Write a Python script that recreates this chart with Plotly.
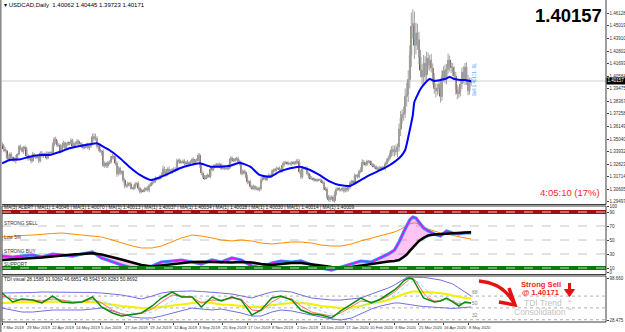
import plotly.graph_objects as go

# ---------------- DATA ----------------
tick_idx = [0, 16, 32, 48, 64, 80, 96, 112, 128, 144, 160, 176, 192, 208, 224, 240, 256, 272, 288, 304]
tick_dates = ["7 Mar 2019", "29 Mar 2019", "22 Apr 2019", "14 May 2019", "5 Jun 2019", "27 Jun 2019",
              "19 Jul 2019", "12 Aug 2019", "3 Sep 2019", "25 Sep 2019", "17 Oct 2019", "8 Nov 2019",
              "2 Dec 2019", "24 Dec 2019", "17 Jan 2020", "10 Feb 2020", "3 Mar 2020", "25 Mar 2020",
              "16 Apr 2020", "8 May 2020"]

first_open = 1.3462
closes = [
    1.3450, 1.3415, 1.3400, 1.3345, 1.3325, 1.3370, 1.3340, 1.3330, 1.3315, 1.3330, 1.3370, 1.3435, 1.3420, 1.3395, 1.3430, 1.3420, 1.3355,
    1.3330, 1.3340, 1.3310, 1.3370, 1.3355, 1.3340, 1.3350, 1.3310, 1.3380, 1.3355, 1.3370, 1.3375, 1.3335, 1.3380, 1.3385, 1.3385, 1.3450, 1.3505, 1.3480, 1.3450, 1.3450, 1.3395,
    1.3440, 1.3470, 1.3425, 1.3455, 1.3470, 1.3465, 1.3490, 1.3440, 1.3465, 1.3460, 1.3485, 1.3465, 1.3460, 1.3440, 1.3425, 1.3440, 1.3455, 1.3425, 1.3440, 1.3460, 1.3525, 1.3505, 1.3510,
    1.3440, 1.3415, 1.3395, 1.3390, 1.3270, 1.3290, 1.3265, 1.3290, 1.3300, 1.3340, 1.3350, 1.3340, 1.3290, 1.3195, 1.3245, 1.3205, 1.3215, 1.3140, 1.3090, 1.3090,
    1.3110, 1.3110, 1.3070, 1.3070, 1.3080, 1.3110, 1.3110, 1.3070, 1.3040, 1.3050, 1.3045, 1.3060, 1.3070, 1.3055, 1.3095, 1.3110, 1.3125, 1.3125, 1.3155, 1.3155, 1.3155, 1.3170, 1.3185,
    1.3240, 1.3215, 1.3200, 1.3240, 1.3220, 1.3215, 1.3235, 1.3230, 1.3240, 1.3305, 1.3315, 1.3300, 1.3300, 1.3310, 1.3290, 1.3300, 1.3290, 1.3295, 1.3300, 1.3325, 1.3290, 1.3315,
    1.3320, 1.3360, 1.3275, 1.3205, 1.3175, 1.3160, 1.3170, 1.3180, 1.3175, 1.3240, 1.3235, 1.3265, 1.3275, 1.3270, 1.3280, 1.3270, 1.3245, 1.3265, 1.3245, 1.3245, 1.3245,
    1.3265, 1.3330, 1.3320, 1.3315, 1.3325, 1.3330, 1.3305, 1.3290, 1.3200, 1.3220, 1.3210, 1.3170, 1.3125, 1.3125, 1.3085, 1.3070, 1.3085, 1.3065, 1.3070, 1.3060, 1.3065, 1.3145, 1.3165,
    1.3160, 1.3150, 1.3170, 1.3185, 1.3175, 1.3215, 1.3230, 1.3230, 1.3245, 1.3245, 1.3235, 1.3220, 1.3275, 1.3295, 1.3295, 1.3290, 1.3285, 1.3285, 1.3295, 1.3290, 1.3295,
    1.3310, 1.3300, 1.3215, 1.3170, 1.3245, 1.3245, 1.3245, 1.3200, 1.3175, 1.3160, 1.3155, 1.3145, 1.3140, 1.3140, 1.3145, 1.3145, 1.3130, 1.3120, 1.3070, 1.3060, 1.2990,
    1.2970, 1.2990, 1.2985, 1.2960, 1.3020, 1.3060, 1.3065, 1.3055, 1.3055, 1.3065, 1.3045, 1.3065, 1.3055, 1.3080, 1.3115, 1.3125, 1.3120, 1.3180, 1.3180, 1.3170, 1.3220, 1.3235,
    1.3300, 1.3285, 1.3280, 1.3305, 1.3305, 1.3295, 1.3280, 1.3265, 1.3260, 1.3245, 1.3235, 1.3250, 1.3240, 1.3250, 1.3245, 1.3285, 1.3315, 1.3335, 1.3370, 1.3410,
    1.3390, 1.3410, 1.3390, 1.3435, 1.3590, 1.3690, 1.3720, 1.3740, 1.3880, 1.3900, 1.4030, 1.4240, 1.4500, 1.4520, 1.4330, 1.4440, 1.4380, 1.4230, 1.4110, 1.4050, 1.4175, 1.4070,
    1.4215, 1.4160, 1.4200, 1.4130, 1.4035, 1.3950, 1.3930, 1.3950, 1.3990, 1.3880, 1.4060, 1.4105, 1.4040, 1.4120, 1.4200, 1.4145, 1.4135, 1.4100, 1.4060, 1.3940, 1.3905, 1.3920,
    1.3990, 1.4095, 1.4030, 1.4140, 1.4025, 1.3930, 1.4006, 1.40171,
]
upper_wick_pips = [
    17, 12, 20, 10, 25, 15, 18, 12, 14, 30, 10, 16, 20, 15, 12, 18, 14,
    14, 18, 12, 20, 10, 15, 22, 13, 16, 18, 12, 10, 20, 14, 8, 12, 25, 17, 20, 15, 18, 12,
    15, 20, 12, 18, 14, 10, 22, 16, 12, 15, 18, 14, 10, 16, 20, 12, 14, 18, 10, 15, 25, 30, 40,
    20, 15, 18, 12, 25, 16, 14, 20, 18, 15, 22, 12, 14, 20, 18, 16, 12, 15, 20, 18,
    18, 14, 16, 10, 22, 12, 15, 20, 14, 16, 12, 18, 10, 20, 15, 12, 16, 14, 20, 12, 15, 18, 25,
    30, 20, 25, 15, 22, 18, 14, 20, 16, 25, 15, 18, 12, 14, 16, 12, 20, 15, 18, 14, 16, 12,
    15, 20, 18, 16, 14, 12, 18, 20, 15, 22, 16, 14, 12, 18, 15, 16, 20, 14, 12, 16, 18,
    20, 18, 25, 15, 14, 16, 20, 18, 22, 16, 14, 18, 20, 15, 16, 14, 18, 12, 16, 14, 18, 25, 20,
    18, 15, 14, 16, 12, 20, 15, 14, 16, 12, 18, 14, 20, 16, 14, 12, 15, 18, 14, 16, 12,
    16, 20, 25, 18, 22, 14, 16, 20, 15, 18, 14, 12, 16, 14, 12, 10, 8, 12, 16, 14, 20,
    20, 18, 16, 22, 25, 18, 14, 16, 12, 14, 18, 16, 12, 15, 20, 18, 16, 20, 15, 18, 16, 20,
    25, 20, 18, 16, 14, 15, 18, 14, 16, 12, 14, 16, 12, 18, 15, 20, 18, 22, 25, 30,
    40, 35, 45, 30, 50, 60, 45, 50, 70, 100, 80, 90, 120, 130, 110, 90, 80, 70, 60, 55, 70, 60,
    60, 50, 45, 55, 40, 50, 45, 40, 35, 45, 50, 40, 55, 45, 60, 40, 35, 40, 45, 35, 40, 45,
    45, 40, 50, 35, 40, 45, 40, 27,
]
lower_wick_pips = [
    10, 22, 15, 18, 12, 20, 10, 25, 16, 28, 14, 12, 18, 10, 22, 12, 16,
    18, 10, 22, 12, 16, 14, 10, 20, 12, 15, 18, 16, 12, 10, 8, 14, 10, 12, 22, 16, 14, 20,
    12, 15, 20, 14, 10, 18, 12, 16, 14, 20, 10, 15, 12, 18, 14, 10, 16, 12, 20, 14, 12, 18, 15,
    18, 20, 14, 30, 15, 20, 16, 18, 12, 14, 16, 20, 18, 25, 12, 20, 14, 18, 22, 15,
    15, 20, 12, 10, 18, 14, 16, 20, 18, 14, 12, 10, 16, 15, 20, 12, 14, 16, 10, 18, 12, 14, 16,
    15, 22, 30, 18, 20, 16, 18, 14, 20, 12, 15, 16, 14, 12, 18, 15, 12, 16, 14, 18, 20, 15,
    18, 15, 25, 20, 16, 18, 14, 12, 16, 15, 18, 14, 16, 12, 14, 18, 16, 12, 15, 14, 16,
    15, 20, 18, 14, 16, 12, 18, 20, 16, 15, 18, 14, 20, 16, 18, 15, 14, 16, 12, 15, 20, 14, 18,
    16, 14, 18, 12, 15, 14, 16, 18, 12, 14, 16, 18, 12, 15, 14, 16, 12, 14, 18, 12, 15,
    14, 18, 15, 20, 16, 12, 14, 16, 18, 14, 12, 15, 10, 12, 14, 10, 12, 14, 18, 16, 12,
    15, 20, 18, 10, 20, 16, 14, 12, 15, 14, 16, 12, 18, 14, 16, 12, 18, 14, 16, 15, 12, 18,
    20, 15, 18, 14, 16, 12, 15, 14, 18, 16, 12, 14, 16, 12, 14, 18, 16, 15, 20, 25,
    35, 40, 30, 45, 40, 60, 50, 55, 50, 90, 70, 80, 100, 110, 120, 80, 90, 70, 60, 65, 50, 55,
    50, 45, 55, 40, 50, 45, 60, 40, 45, 55, 40, 50, 45, 55, 40, 45, 50, 40, 35, 45, 50, 40,
    40, 45, 35, 50, 45, 40, 35, 34,
]

# blue moving average on the price pane
ma_idx = [0, 5, 12, 18, 25, 31, 38, 44, 51, 57, 62, 66, 70, 77, 83, 90, 97, 103, 110, 116, 123, 129, 136, 142,
          149, 155, 162, 168, 175, 181, 188, 194, 201, 207, 214, 220, 227, 234, 240, 247, 253, 260, 263, 266,
          268, 269, 273, 276, 279, 282, 286, 289, 292, 295, 299, 302, 305, 306]
ma_vals = [1.3290, 1.3319, 1.3325, 1.3348, 1.3363, 1.3363, 1.3392, 1.3422, 1.3442, 1.3457, 1.3466, 1.3436,
           1.3407, 1.3334, 1.3260, 1.3187, 1.3142, 1.3166, 1.3207, 1.3246, 1.3275, 1.3290, 1.3260, 1.3260,
           1.3269, 1.3295, 1.3260, 1.3187, 1.3172, 1.3216, 1.3246, 1.3260, 1.3231, 1.3187, 1.3128, 1.3098,
           1.3090, 1.3142, 1.3187, 1.3231, 1.3275, 1.3348, 1.3407, 1.3584, 1.3716, 1.3830, 1.3945, 1.3998,
           1.4033, 1.4016, 1.4025, 1.4033, 1.4051, 1.4033, 1.4025, 1.4025, 1.4016, 1.4016]

# indicator panes (sampled bars)
ind_idx = [0, 7, 13, 20, 26, 33, 39, 46, 52, 59, 65, 72, 78, 85, 91, 98, 104, 111, 117, 124, 130, 137, 143,
           150, 156, 163, 169, 176, 182, 189, 195, 202, 208, 215, 221, 228, 234, 241, 247, 252, 256, 259,
           262, 264, 266, 268, 270, 272, 275, 278, 282, 286, 290, 294, 298, 302, 306]
strength_slow = [21.4, 22.1, 22.9, 23.9, 25.0, 26.4, 27.9, 29.3, 30.0, 31.0, 29.3, 25.7, 22.1, 17.9, 14.3,
                 12.1, 13.6, 16.4, 17.9, 18.6, 19.0, 18.6, 17.9, 17.9, 18.6, 17.9, 15.7, 14.3, 15.7, 17.1,
                 17.1, 15.7, 13.6, 11.4, 10.7, 11.4, 13.6, 15.7, 17.9, 19.3, 20.0, 21.4, 25.7, 29.3, 34.3,
                 39.3, 44.3, 48.6, 52.9, 56.4, 57.9, 58.6, 59.3, 60.0, 60.7, 60.7, 61.0]
strength_fast = [27.1, 25.7, 27.1, 28.6, 25.7, 30.0, 28.6, 27.1, 30.0, 32.9, 24.3, 18.6, 14.3, 10.0, 10.0,
                 12.9, 18.6, 20.0, 21.4, 18.6, 15.7, 21.4, 18.6, 24.3, 21.4, 12.9, 10.0, 17.1, 20.0, 18.6,
                 20.0, 14.3, 10.0, 7.1, 11.4, 15.7, 20.0, 18.6, 24.3, 30.0, 35.7, 47.1, 61.4, 70.0, 78.6,
                 82.9, 81.4, 75.7, 67.1, 62.9, 58.6, 55.7, 62.9, 60.0, 58.6, 60.0, 60.0]
strength_orange = [54.3, 55.7, 56.4, 57.1, 58.6, 59.3, 60.0, 58.6, 57.1, 55.7, 54.3, 50.0, 45.7, 41.4, 38.6,
                   38.6, 41.4, 47.1, 52.9, 57.1, 55.7, 52.9, 50.0, 48.6, 50.0, 48.6, 45.7, 44.3, 45.7, 47.1,
                   47.1, 45.7, 42.9, 41.4, 41.4, 44.3, 48.6, 52.9, 55.7, 58.6, 61.4, 64.3, 67.1, 70.0, 72.9,
                   74.3, 74.3, 72.1, 68.6, 65.7, 62.9, 60.0, 58.6, 56.4, 54.3, 52.9, 51.4]

tdi_upper = [72.7, 72.7, 73.5, 73.5, 74.2, 74.2, 74.2, 74.2, 74.2, 73.5, 72.7, 71.2, 69.7, 66.6, 63.6,
             68.1, 72.7, 75.0, 75.8, 75.8, 75.0, 74.2, 72.7, 71.2, 68.1, 65.1, 69.7, 74.2, 75.8, 74.2,
             69.7, 65.1, 63.6, 62.0, 62.0, 63.6, 65.1, 71.2, 75.8, 80.4, 84.9, 89.5, 94.1, 96.4, 97.1,
             97.1, 97.1, 97.1, 96.4, 95.6, 94.1, 92.6, 89.5, 86.5, 80.4, 74.2, 68.1]
tdi_lower = [49.8, 46.8, 43.7, 43.7, 45.3, 46.8, 46.8, 46.8, 46.8, 48.3, 49.8, 45.3, 40.7, 36.1, 34.6,
             34.6, 37.6, 42.2, 45.3, 49.8, 48.3, 46.8, 48.3, 45.3, 42.2, 37.6, 37.6, 43.7, 46.8, 45.3,
             42.2, 39.2, 36.1, 33.1, 31.5, 34.6, 40.7, 48.3, 52.9, 55.9, 57.5, 57.5, 56.7, 55.9, 55.2,
             54.4, 53.7, 52.9, 52.1, 51.4, 50.6, 49.8, 49.8, 49.1, 49.8, 50.6, 51.4]
tdi_base = [57.5, 58.2, 59.0, 59.0, 59.0, 59.8, 59.8, 59.0, 59.0, 59.0, 57.5, 54.4, 52.9, 51.4, 49.8,
            49.8, 51.4, 53.7, 55.9, 57.5, 59.0, 57.5, 55.2, 54.4, 52.9, 51.4, 52.1, 54.4, 55.9, 57.5,
            57.5, 55.9, 52.9, 51.4, 49.8, 50.6, 52.9, 57.5, 59.0, 62.0, 65.1, 68.1, 71.2, 72.7, 74.2,
            75.0, 75.0, 75.0, 75.0, 74.2, 73.5, 72.7, 71.2, 68.9, 66.6, 65.1, 64.3]
tdi_price = [72.7, 59.0, 63.6, 62.0, 57.5, 68.1, 59.0, 57.5, 59.0, 66.6, 51.4, 42.2, 37.6, 40.7, 42.2,
             52.9, 65.1, 74.2, 66.6, 66.6, 51.4, 66.6, 60.5, 66.6, 62.0, 39.2, 46.8, 65.1, 68.1, 62.0,
             46.8, 40.7, 39.2, 34.6, 45.3, 55.9, 65.1, 57.5, 63.6, 71.2, 77.3, 83.4, 91.0, 94.1, 95.6,
             94.1, 86.5, 77.3, 65.1, 62.0, 59.0, 60.5, 65.1, 59.0, 52.9, 59.0, 57.5]
tdi_signal = [68.1, 63.6, 62.0, 62.0, 60.5, 63.6, 62.0, 59.0, 59.0, 63.6, 57.5, 46.8, 40.7, 39.2, 42.2,
              48.3, 59.0, 69.7, 68.1, 66.6, 57.5, 62.0, 62.0, 65.1, 63.6, 46.8, 45.3, 59.0, 66.6, 63.6,
              52.9, 43.7, 40.7, 37.6, 42.2, 51.4, 60.5, 59.0, 62.0, 68.1, 74.2, 80.4, 86.5, 91.0, 94.1,
              94.1, 91.0, 83.4, 72.7, 65.1, 60.5, 60.5, 63.6, 60.5, 55.9, 57.5, 57.5]
tdi_cyan = [65.1, 65.1, 63.6, 62.0, 62.0, 62.0, 62.0, 60.5, 59.0, 60.5, 60.5, 54.4, 46.8, 42.2, 40.7,
            43.7, 51.4, 60.5, 66.6, 68.1, 63.6, 60.5, 62.0, 63.6, 63.6, 55.9, 48.3, 51.4, 59.0, 63.6,
            59.0, 51.4, 45.3, 40.7, 39.2, 45.3, 52.9, 57.5, 59.0, 63.6, 68.1, 74.2, 80.4, 84.9, 88.0,
            91.0, 91.0, 88.0, 81.9, 74.2, 68.1, 63.6, 62.0, 62.0, 59.0, 57.5, 57.5]

price_ticks = [1.46128, 1.45019, 1.43910, 1.42802, 1.41693, 1.40584, 1.39475, 1.38367, 1.37258, 1.36149,
               1.35040, 1.33932, 1.32823, 1.31714, 1.30605, 1.29497]
strength_ticks = [97.6, 90, 70, 50, 30, 10, 3.8]
strength_tick_text = ["100", "90", "70", "50", "30", "10", "0"]
tdi_ticks = [95.6, 30.8]
tdi_tick_text = ["98.660", "28.475"]
bid_price = 1.40157

# ---------------- BUILD ----------------
n = min(len(closes), len(upper_wick_pips), len(lower_wick_pips))
closes = closes[:n]
idx = list(range(n))
opens = [first_open] + closes[:-1]
highs = [max(o, c) + u * 1e-4 for o, c, u in zip(opens, closes, upper_wick_pips)]
lows = [min(o, c) - w * 1e-4 for o, c, w in zip(opens, closes, lower_wick_pips)]

FONT = "Liberation Sans, Arial, sans-serif"
W, H, ML, MR, MT, MB = 625, 332, 2, 19, 0, 10
PW, PH = W - ML - MR, H - MT - MB


def px_x(px):
    return (px - ML) / PW


def px_y(py):
    return (H - MB - py) / PH


def P(px, py):
    return f"{px_x(px):.4f},{px_y(py):.4f}"


fig = go.Figure()

wick = "#a3a3a3"
fig.add_trace(go.Candlestick(
    x=idx, open=opens, high=highs, low=lows, close=closes,
    increasing=dict(line=dict(color=wick, width=1), fillcolor=wick),
    decreasing=dict(line=dict(color=wick, width=1), fillcolor=wick),
    whiskerwidth=0, hoverinfo="skip", xaxis="x", yaxis="y"))

body_base = [min(o, c) for o, c in zip(opens, closes)]
body_h = [max(abs(c - o), 0.00008) for o, c in zip(opens, closes)]
body_col = ["#7d8b45" if c >= o else "#8e1414" for o, c in zip(opens, closes)]
fig.add_trace(go.Bar(x=idx, y=body_h, base=body_base, marker=dict(color=body_col, line=dict(width=0)),
                     width=0.75, hoverinfo="skip", xaxis="x", yaxis="y"))

fig.add_trace(go.Scatter(x=ma_idx, y=ma_vals, mode="lines",
                         line=dict(color="#0000ff", width=2, shape="spline", smoothing=0.5),
                         hoverinfo="skip", xaxis="x", yaxis="y"))

# pane 2
fig.add_trace(go.Scatter(x=ind_idx, y=strength_orange, mode="lines", line=dict(color="#ff8c00", width=1),
                         xaxis="x2", yaxis="y2", hoverinfo="skip"))
fig.add_trace(go.Scatter(x=ind_idx, y=strength_slow, mode="lines", line=dict(color="#000000", width=0.1),
                         xaxis="x2", yaxis="y2", hoverinfo="skip"))
fig.add_trace(go.Scatter(x=ind_idx, y=strength_fast, mode="lines", line=dict(color="#ff00ff", width=0),
                         fill="tonexty", fillcolor="rgba(255,60,220,0.30)",
                         xaxis="x2", yaxis="y2", hoverinfo="skip"))
fig.add_trace(go.Scatter(x=ind_idx, y=strength_fast, mode="lines", line=dict(color="#2f8fff", width=3.2),
                         xaxis="x2", yaxis="y2", hoverinfo="skip"))
fig.add_trace(go.Scatter(x=ind_idx, y=strength_fast, mode="lines", line=dict(color="#ff00ff", width=1.2),
                         xaxis="x2", yaxis="y2", hoverinfo="skip"))
fig.add_trace(go.Scatter(x=ind_idx, y=strength_slow, mode="lines", line=dict(color="#000000", width=2.6),
                         xaxis="x2", yaxis="y2", hoverinfo="skip"))

# pane 3 (TDI)
for vals, col, wd, dash in [(tdi_upper, "#6f6fe6", 1, "solid"), (tdi_lower, "#6f6fe6", 1, "solid"),
                            (tdi_base, "#f5f000", 2.2, "solid"), (tdi_cyan, "#7fe8f0", 1, "dot"),
                            (tdi_signal, "#ff6b6b", 1, "solid"), (tdi_price, "#0a8a0a", 1.5, "solid")]:
    fig.add_trace(go.Scatter(x=ind_idx, y=vals, mode="lines", line=dict(color=col, width=wd, dash=dash),
                             xaxis="x3", yaxis="y3", hoverinfo="skip"))

shapes = []
# current price line
shapes.append(dict(type="line", xref="paper", yref="y", x0=0, x1=1, y0=bid_price, y1=bid_price,
                   line=dict(color="#cfcfcf", width=1), layer="below"))
# pane 2 levels
for lv in (70, 50, 30):
    shapes.append(dict(type="line", xref="paper", yref="y2", x0=0, x1=1, y0=lv, y1=lv,
                       line=dict(color="#c4c4c4", width=1, dash="dash"), layer="below"))
for lv, col in ((90, "#a01010"), (10, "#0b7a0b")):
    shapes.append(dict(type="line", xref="paper", yref="y2", x0=0, x1=1, y0=lv, y1=lv,
                       line=dict(color=col, width=4)))
    shapes.append(dict(type="line", xref="paper", yref="y2", x0=0, x1=1, y0=lv, y1=lv,
                       line=dict(color="rgba(255,255,255,0.75)", width=1, dash="dash")))
# pane 3 levels
for lv in (68, 50, 32):
    shapes.append(dict(type="line", xref="paper", yref="y3", x0=0, x1=1, y0=lv, y1=lv,
                       line=dict(color="#b0b0b0", width=1, dash="dot"), layer="below"))
# pane frames
frame = dict(color="#3c3c3c", width=1)
shapes.append(dict(type="line", xref="paper", yref="paper", x0=1, x1=1, y0=px_y(0), y1=px_y(204.5), line=frame))
shapes.append(dict(type="line", xref="paper", yref="paper", x0=0, x1=1, y0=px_y(204.5), y1=px_y(204.5), line=frame))
shapes.append(dict(type="rect", xref="paper", yref="paper", x0=0, x1=1, y0=px_y(274.5), y1=px_y(206),
                   line=frame))
shapes.append(dict(type="rect", xref="paper", yref="paper", x0=0, x1=1, y0=px_y(322), y1=px_y(276),
                   line=frame))
# left window edge
shapes.append(dict(type="rect", xref="paper", yref="paper", x0=px_x(0), x1=px_x(1.6), y0=px_y(332), y1=px_y(0),
                   line=dict(width=0), fillcolor="#8c8c8c"))
# big red curved arrow
red = "#e41212"
shapes.append(dict(type="path", xref="paper", yref="paper",
                   path=f"M {P(479, 281)} Q {P(503, 283)} {P(514, 303)}",
                   line=dict(color=red, width=3.5)))
shapes.append(dict(type="path", xref="paper", yref="paper",
                   path=f"M {P(499, 302)} L {P(515, 305)} L {P(509, 288)}",
                   line=dict(color=red, width=3.5)))
# small red down arrow
shapes.append(dict(type="line", xref="paper", yref="paper", x0=px_x(569.5), x1=px_x(569.5),
                   y0=px_y(283), y1=px_y(291), line=dict(color=red, width=3)))
shapes.append(dict(type="path", xref="paper", yref="paper",
                   path=f"M {P(564.5, 289.5)} L {P(574.5, 289.5)} L {P(569.5, 296.5)} Z",
                   fillcolor=red, line=dict(color=red, width=1)))

ann = []


def text(px, py, s, size, color="#000000", xanchor="left", bold=False, **kw):
    if bold:
        s = f"<b>{s}</b>"
    d = dict(x=px_x(px), y=px_y(py), xref="paper", yref="paper", text=s, showarrow=False,
             xanchor=xanchor, yanchor="middle", borderpad=0,
             font=dict(family=FONT, size=size, color=color))
    d.update(kw)
    ann.append(d)


text(3, 5.5, "▾ USDCAD,Daily  1.40062 1.40445 1.39723 1.40171", 6)
text(603, 16, "1.40157", 18.5, xanchor="right", bold=True)
text(601, 192, "4:05:10 (17%)", 9.5, color="#ff2424", xanchor="right")
text(475, 79, "Sell 1.40171  SL", 4.5, color="#3399ff", xanchor="center", textangle=-90)
text(3, 207.8, "MA(3) ALERT | MA(1) 1.40046 | MA(1) 1.40070 | MA(1) 1.40013 | MA(1) 1.40037 | MA(1) 1.40034 | "
     "MA(1) 1.40028 | MA(1) 1.40030 | MA(1) 1.40014 | MA(1) 1.40009", 4.8, color="#202020")
text(3, 223.5, "STRONG SELL", 4.8, color="#333333")
text(3, 237.5, "Low 5%", 4.8, color="#333333")
text(3, 251.5, "STRONG BUY", 4.8, color="#333333")
text(3, 264.3, "SUPPORT", 4.8, color="#333333")
text(3, 279.5, "TDI visual 28.1589 31.9260 46.6851 49.5943 50.8283 50.8692", 4.8, color="#202020")
for lbl, py in (("68", 292), ("50", 303.5), ("32", 315.7)):
    text(471, py, lbl, 4.8, color="#808080")
text(541, 284, "Strong Sell", 7.6, color="#ff1a1a", xanchor="center", bold=True)
text(541, 292, "@ 1.40171", 7.6, color="#ff1a1a", xanchor="center", bold=True)
text(543, 303, "TDI Trend", 8.5, color="#c3c3c3", xanchor="center")
text(540, 311.8, "Consolidation", 8.5, color="#c3c3c3", xanchor="center")
text(569.5, 304.5, "≈<br>≈", 6, color="#b8b8b8", xanchor="center")
# date labels, left-aligned at their bar like the terminal draws them
for ti, lbl in zip(tick_idx, tick_dates):
    ann.append(dict(x=ti, y=px_y(327.3), xref="x3", yref="paper", text=lbl, showarrow=False,
                    xanchor="left", yanchor="middle", borderpad=0, xshift=-0.5,
                    font=dict(family=FONT, size=4.1, color="#303030")))
# bid box on the price scale
ann.append(dict(x=1, y=bid_price, xref="paper", yref="y", text="1.40157", showarrow=False, xanchor="left",
                yanchor="middle", bgcolor="#000000", borderpad=0.4,
                font=dict(family=FONT, size=4.5, color="#ffffff")))

xcommon = dict(range=[0, 394], showgrid=False, zeroline=False, showline=False, fixedrange=True,
               automargin=False)
ytick = dict(family=FONT, size=4.5, color="#303030")
fig.update_layout(
    width=W, height=H, margin=dict(l=ML, r=MR, t=MT, b=MB, autoexpand=False),
    paper_bgcolor="white", plot_bgcolor="white", showlegend=False, hovermode=False,
    barmode="overlay", font=dict(family=FONT),
    xaxis=dict(domain=[0, 1], anchor="y", showticklabels=False, rangeslider=dict(visible=False), **xcommon),
    xaxis2=dict(domain=[0, 1], anchor="y2", showticklabels=False, **xcommon),
    xaxis3=dict(domain=[0, 1], anchor="y3", tickvals=tick_idx, showticklabels=False, ticks="outside",
                ticklen=2, tickcolor="#404040", **xcommon),
    yaxis=dict(domain=[px_y(204), px_y(1)], range=[1.29308, 1.47213], side="right", anchor="x",
               tickvals=price_ticks, ticktext=[f"{v:.5f}" for v in price_ticks], ticks="outside", ticklen=1.5,
               tickcolor="#404040", tickfont=ytick, showgrid=False, zeroline=False, fixedrange=True,
               automargin=False),
    yaxis2=dict(domain=[px_y(274), px_y(206)], range=[1.43, 98.57], side="right", anchor="x2",
                tickvals=strength_ticks, ticktext=strength_tick_text, ticks="outside", ticklen=1.5,
                tickcolor="#404040", tickfont=ytick, showgrid=False, zeroline=False, fixedrange=True,
                automargin=False),
    yaxis3=dict(domain=[0, px_y(276)], range=[28.475, 98.66], side="right", anchor="x3",
                tickvals=tdi_ticks, ticktext=tdi_tick_text, ticks="outside", ticklen=1.5,
                tickcolor="#404040", tickfont=ytick, showgrid=False, zeroline=False, fixedrange=True,
                automargin=False),
    shapes=shapes, annotations=ann,
)

fig.write_html("out.html")
